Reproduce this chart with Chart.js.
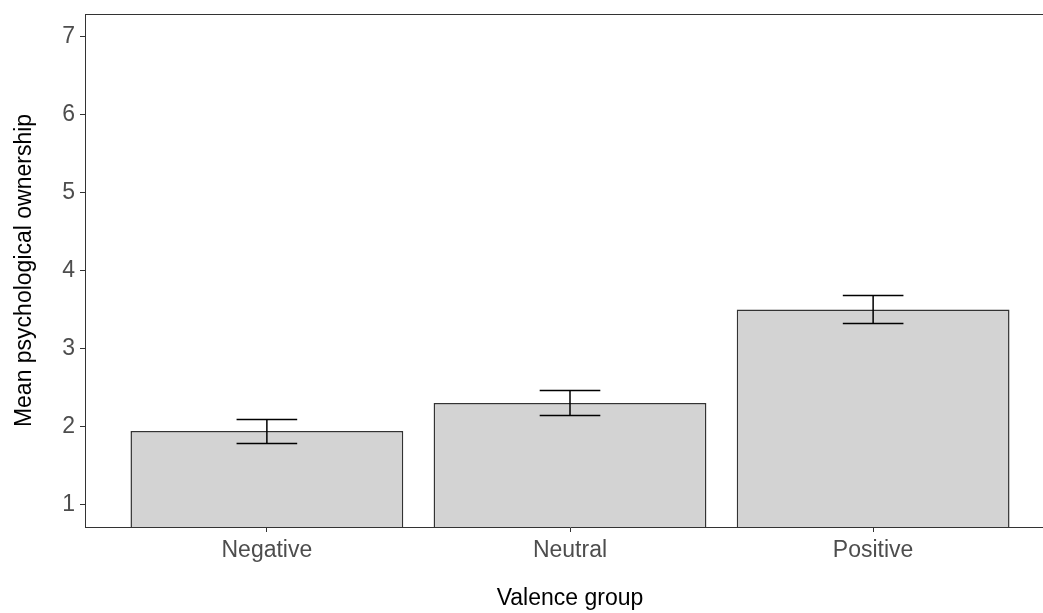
<!DOCTYPE html>
<html>
<head>
<meta charset="utf-8">
<script src="https://cdn.jsdelivr.net/npm/chart.js@4"></script>
<style>
  html, body { margin: 0; padding: 0; background: #fff; overflow: hidden; }
</style>
</head>
<body>
<canvas id="myChart" width="1055" height="613"></canvas>
<script>
const ctx = document.getElementById("myChart");

const categories = ['Negative', 'Neutral', 'Positive'];
const positions = [1, 2, 3];
const means = [1.94, 2.30, 3.50];
const lower = [1.78, 2.14, 3.32];
const upper = [2.09, 2.46, 3.68];
const yTicks = [1, 2, 3, 4, 5, 6, 7];

const font = "Arial, 'Liberation Sans', sans-serif";

// error bars + top border of the panel
const errorBars = {
    id: 'errorBars',
    afterDatasetsDraw(chart) {
        const x = chart.scales.x, y = chart.scales.y, c = chart.ctx;
        const half = x.getPixelForValue(1.1) - x.getPixelForValue(1);
        c.save();
        c.strokeStyle = '#000';
        c.lineWidth = 1.5;
        positions.forEach((p, i) => {
            const px = x.getPixelForValue(p);
            const yl = y.getPixelForValue(lower[i]);
            const yu = y.getPixelForValue(upper[i]);
            c.beginPath();
            c.moveTo(px, yl); c.lineTo(px, yu);
            c.moveTo(px - half, yl); c.lineTo(px + half, yl);
            c.moveTo(px - half, yu); c.lineTo(px + half, yu);
            c.stroke();
        });
        const a = chart.chartArea;
        c.strokeStyle = '#333';
        c.lineWidth = 1;
        c.beginPath();
        c.moveTo(a.left, a.top + 0.5); c.lineTo(a.right, a.top + 0.5);
        c.stroke();
        c.restore();
    }
};

const data = {
    datasets: [{
        data: positions.map((p, i) => ({ x: p, y: means[i] })),
        backgroundColor: '#d3d3d3',
        borderColor: '#333',
        borderWidth: 1.5,
        borderSkipped: false,
        barPercentage: 0.9,
        categoryPercentage: 1.0
    }]
};

const config = {
    type: 'bar',
    data: data,
    plugins: [errorBars],
    options: {
        responsive: false,
        animation: false,
        layout: { padding: { top: 14, right: 0, left: 0, bottom: 0 } },
        plugins: { legend: { display: false }, tooltip: { enabled: false } },
        scales: {
            x: {
                type: 'linear',
                min: 0.4,
                max: 3.6,
                offset: false,
                afterBuildTicks: s => { s.ticks = positions.map(v => ({ value: v })); },
                afterFit: s => { s.height = 86; s.paddingLeft = 0; s.paddingRight = 0; },
                ticks: {
                    callback: v => categories[positions.indexOf(v)],
                    color: '#4d4d4d',
                    font: { family: font, size: 23 },
                    padding: 5,
                    maxRotation: 0
                },
                grid: { offset: false, drawOnChartArea: false, drawTicks: true, tickLength: 5, color: '#333' },
                border: { display: true, color: '#333', width: 1 },
                title: {
                    display: true,
                    text: 'Valence group',
                    color: '#000',
                    font: { family: font, size: 23 },
                    padding: { top: 0, bottom: 1 }
                }
            },
            y: {
                min: 0.71,
                max: 7.29,
                afterBuildTicks: s => { s.ticks = yTicks.map(v => ({ value: v })); },
                afterFit: s => { s.width = 85; s.paddingTop = 0; s.paddingBottom = 0; },
                ticks: {
                    color: '#4d4d4d',
                    font: { family: font, size: 23 },
                    padding: 5
                },
                grid: { drawOnChartArea: false, drawTicks: true, tickLength: 5, color: '#333' },
                border: { display: true, color: '#333', width: 1 },
                title: {
                    display: true,
                    text: 'Mean psychological ownership',
                    color: '#000',
                    font: { family: font, size: 23 },
                    padding: { top: 11, bottom: 0 }
                }
            }
        }
    }
};

const myChart = new Chart(ctx, config);
</script>
</body>
</html>
